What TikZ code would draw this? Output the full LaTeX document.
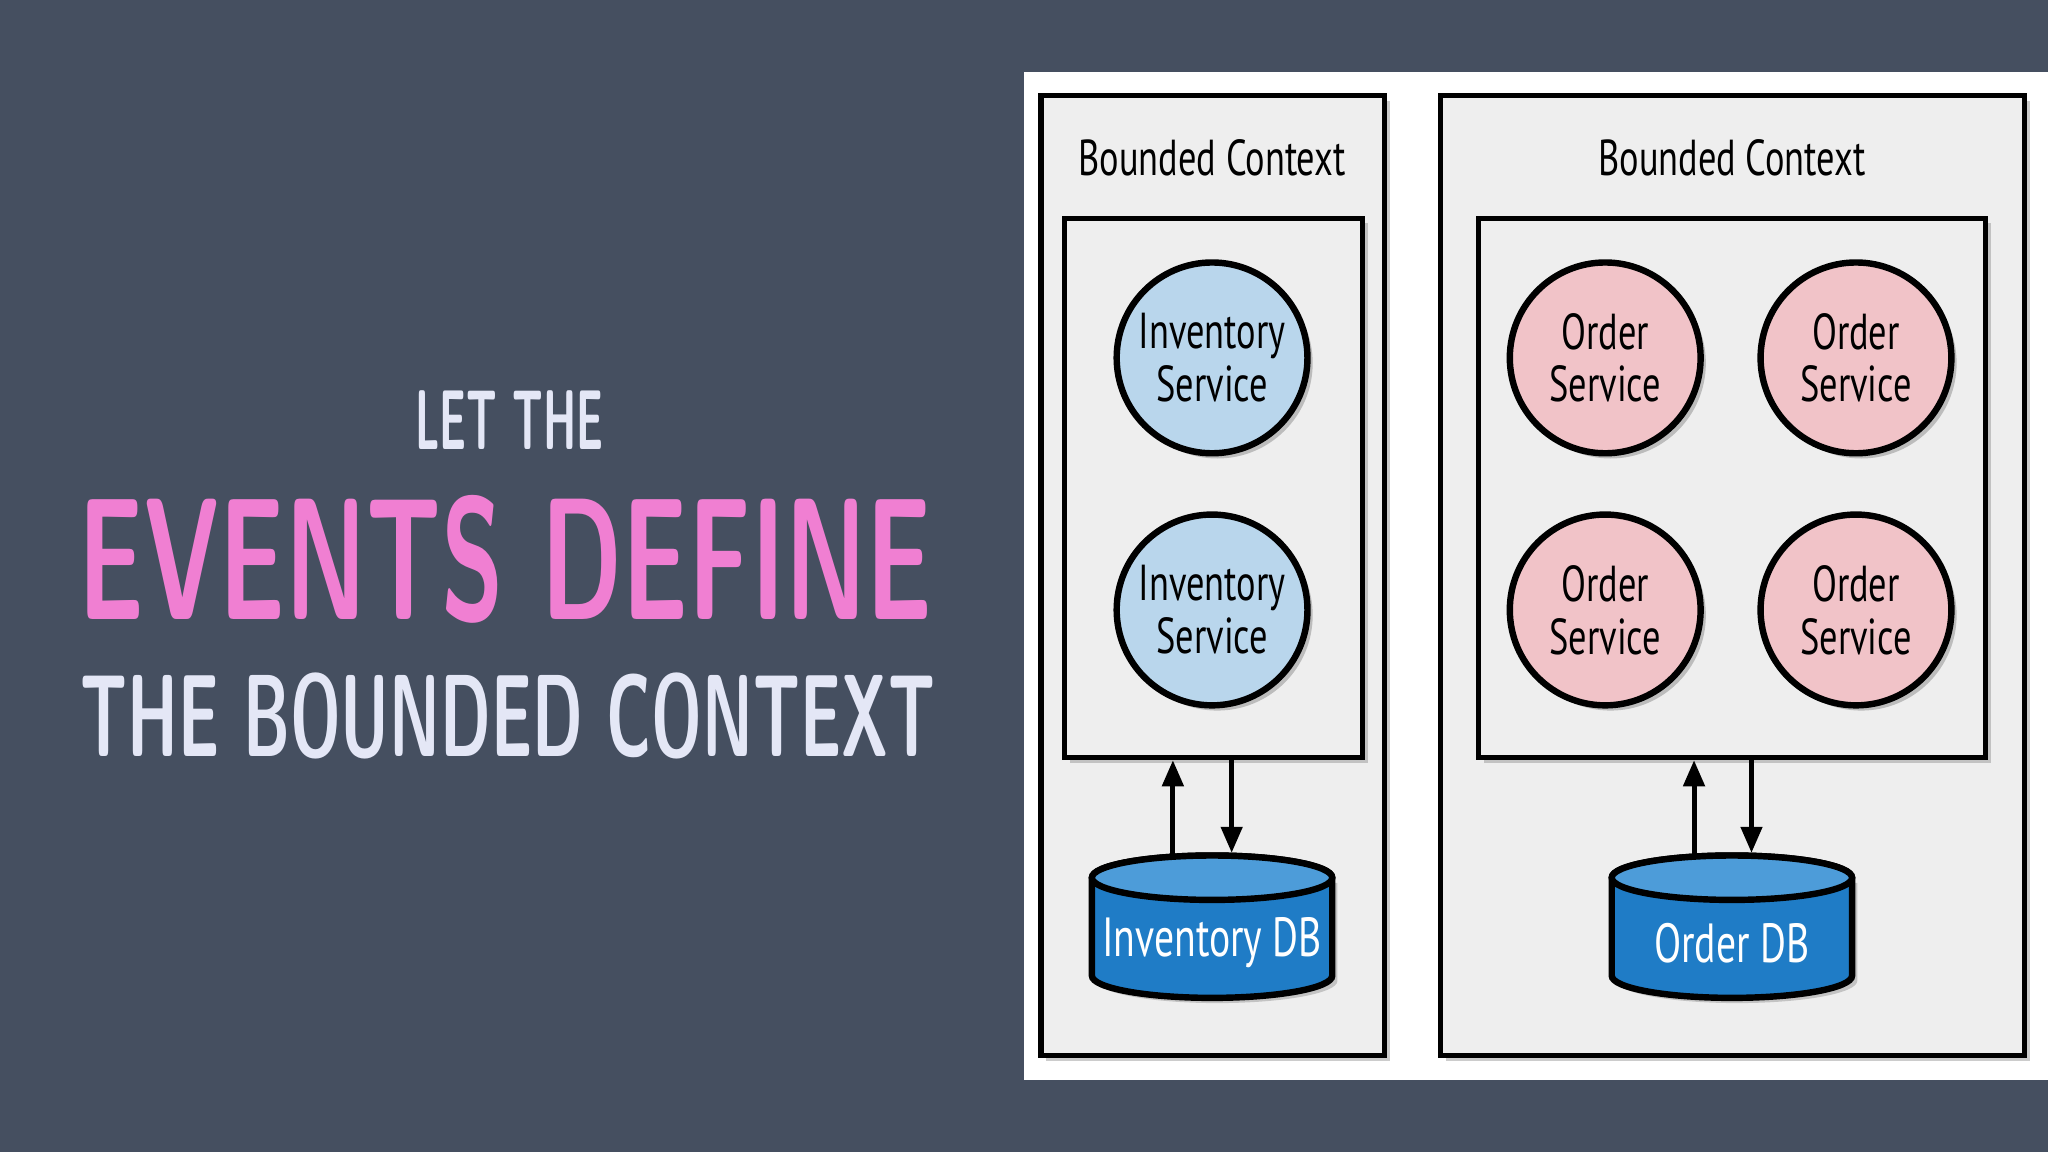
\documentclass[tikz,border=0pt]{standalone}
\usepackage{fontspec}
\setmainfont{PT Sans}
\usetikzlibrary{shadows,shapes.geometric,arrows.meta}
\definecolor{bg}{HTML}{454F60}
\definecolor{pinkt}{HTML}{F07FD2}
\definecolor{whitet}{HTML}{E4E7F6}
\definecolor{boxg}{HTML}{EEEEEE}
\definecolor{blu}{HTML}{B9D6EC}
\definecolor{pnk}{HTML}{F1C3C8}
\definecolor{dbf}{HTML}{1F7CC6}
\definecolor{dbt}{HTML}{4D9CD9}
\newcommand{\cnd}[1]{\scalebox{0.72}[1]{#1}}
\begin{document}
\begin{tikzpicture}[x=0.01cm,y=-0.01cm,
  ctx/.style={draw=black,line width=1.1pt,fill=boxg,drop shadow={shadow xshift=0.04cm,shadow yshift=-0.04cm,opacity=0.4}},
  svc/.style={circle,draw=black,line width=1.4pt,minimum size=1.46cm,inner sep=0pt,align=center,font=\fontsize{11}{11.5}\selectfont,drop shadow={shadow xshift=0.04cm,shadow yshift=-0.04cm,opacity=0.45}},
  inv/.style={svc,fill=blu},
  ord/.style={svc,fill=pnk},
  arr/.style={-{Triangle[length=0.2cm,width=0.16cm]},line width=1.1pt},
  lbl/.style={font=\fontsize{11}{11}\selectfont}]
\useasboundingbox (0,0) rectangle (1568,882);
\fill[bg] (0,0) rectangle (1568,882);
\fill[white] (784,55) rectangle (1568,827);
% left titles
\node (t1) at (390,322) {\color{whitet}\resizebox{1.44cm}{0.45cm}{\sffamily\bfseries LET THE}};
\node (t2) at (387,428) {\color{pinkt}\resizebox{6.53cm}{0.95cm}{\sffamily\bfseries EVENTS DEFINE}};
\node (t3) at (389,548) {\color{whitet}\resizebox{6.54cm}{0.64cm}{\sffamily\bfseries THE BOUNDED CONTEXT}};
% contexts
\draw[ctx] (797,73) rectangle (1060,808);
\draw[ctx] (1103,73) rectangle (1550,808);
\node[lbl] (l1) at (928,121) {\cnd{Bounded Context}};
\node[lbl] (l2) at (1326,121) {\cnd{Bounded Context}};
\draw[ctx] (815,167) rectangle (1043,580);
\draw[ctx] (1132,167) rectangle (1520,580);
\node[inv] (i1) at (928,274) {\cnd{Inventory}\\\cnd{Service}};
\node[inv] (i2) at (928,467) {\cnd{Inventory}\\\cnd{Service}};
\node[ord] (o1) at (1229,274) {\cnd{Order}\\\cnd{Service}};
\node[ord] (o2) at (1421,274) {\cnd{Order}\\\cnd{Service}};
\node[ord] (o3) at (1229,467) {\cnd{Order}\\\cnd{Service}};
\node[ord] (o4) at (1421,467) {\cnd{Order}\\\cnd{Service}};
% databases
\foreach \cx/\nm/\tx in {928/idb/Inventory DB,1326/odb/Order DB}{
  \fill[black!40,opacity=0.5] (\cx-92+4,672+4) -- (\cx-92+4,747+4) arc[start angle=180,end angle=0,x radius=92,y radius=17] -- (\cx+92+4,672+4) -- cycle;
  \draw[line width=1.4pt,fill=dbf] (\cx-92,672) -- (\cx-92,747) arc[start angle=180,end angle=0,x radius=92,y radius=17] -- (\cx+92,672) arc[start angle=0,end angle=-180,x radius=92,y radius=17] -- cycle;
  \draw[line width=1.4pt,fill=dbt] (\cx,672) ellipse[x radius=92,y radius=17];
  \node[lbl,text=white,font=\fontsize{12}{12}\selectfont] (\nm) at (\cx,722) {\cnd{\tx}};
}
\draw[arr] (898,655) -- (898,582);
\draw[arr] (943,582) -- (943,653);
\draw[arr] (1297,655) -- (1297,582);
\draw[arr] (1341,582) -- (1341,653);
\end{tikzpicture}
\end{document}
